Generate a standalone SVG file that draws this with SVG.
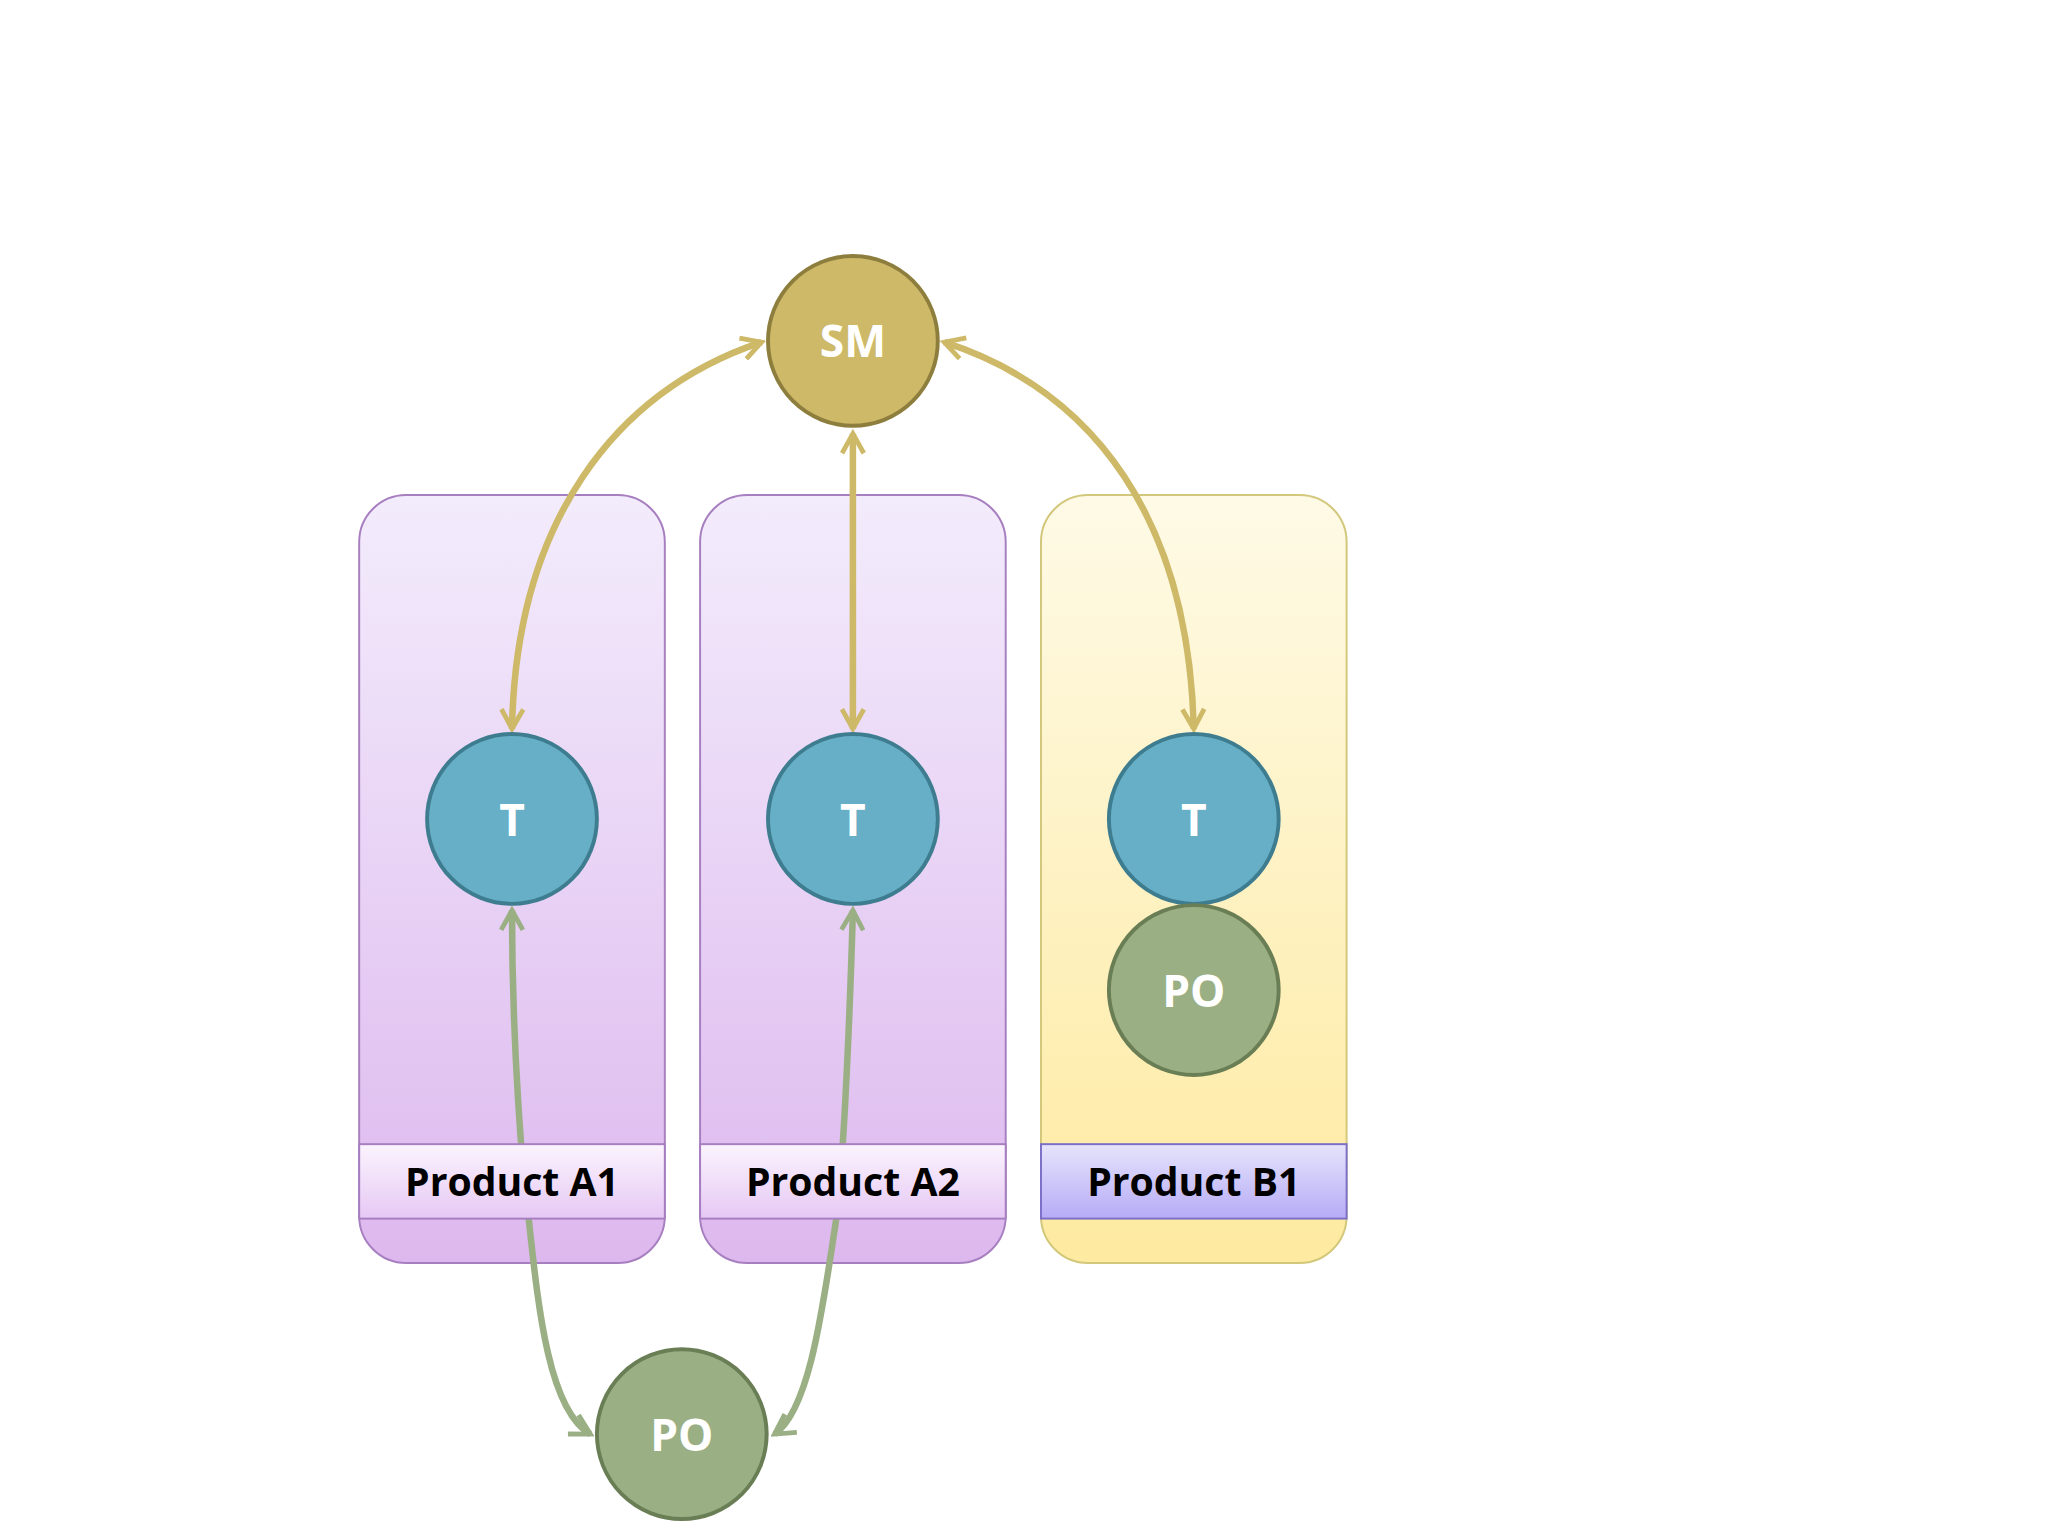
<svg xmlns="http://www.w3.org/2000/svg" width="2048" height="1536" viewBox="0 0 2048 1536">
<defs>
<linearGradient id="gp" x1="0" y1="0" x2="0" y2="1"><stop offset="0" stop-color="#F3ECFC"/><stop offset="1" stop-color="#DDB8EE"/></linearGradient>
<linearGradient id="gy" x1="0" y1="0" x2="0" y2="1"><stop offset="0" stop-color="#FEFAE6"/><stop offset="1" stop-color="#FEEAA0"/></linearGradient>
<linearGradient id="bp" x1="0" y1="0" x2="0" y2="1"><stop offset="0" stop-color="#FBF4FE"/><stop offset="1" stop-color="#E6C8F4"/></linearGradient>
<linearGradient id="bb" x1="0" y1="0" x2="0" y2="1"><stop offset="0" stop-color="#E6E4FC"/><stop offset="1" stop-color="#B6ABF6"/></linearGradient>
<marker id="ag" viewBox="0 0 12 12" refX="10" refY="6" markerWidth="4" markerHeight="4" orient="auto-start-reverse" markerUnits="strokeWidth"><path d="M1,1 L10,6 L1,11" fill="none" stroke="#CDB967" stroke-width="2.2"/></marker>
<marker id="ao" viewBox="0 0 12 12" refX="10" refY="6" markerWidth="4" markerHeight="4" orient="auto-start-reverse" markerUnits="strokeWidth"><path d="M1,1 L10,6 L1,11" fill="none" stroke="#9BAF84" stroke-width="2.2"/></marker>
</defs>
<style>
.panel{stroke-width:1.5}
.band{stroke-width:1.5}
.lbl{font-family:"Open Sans","Liberation Sans",sans-serif;font-weight:bold;font-size:30px;fill:#000;text-anchor:middle}
.ct{font-family:"Open Sans","Liberation Sans",sans-serif;font-weight:bold;font-size:34px;fill:#fff;text-anchor:middle}
.t{fill:#67AFC6;stroke:#3E7C90;stroke-width:3}
.po{fill:#9BAF84;stroke:#6A7E55;stroke-width:3}
.sm{fill:#CDB967;stroke:#8E7E3E;stroke-width:3}
.cg{fill:none;stroke:#CDB967;stroke-width:5;marker-start:url(#ag);marker-end:url(#ag)}
.co{fill:none;stroke:#9BAF84;stroke-width:5;marker-start:url(#ao);marker-end:url(#ao)}
</style>
<g transform="scale(1.30612)">
<g id="panelA1"><rect class="panel" x="275" y="379" width="234" height="588" rx="36" fill="url(#gp)" stroke="#A77FC0"/></g>
<g id="panelA2"><rect class="panel" x="536" y="379" width="234" height="588" rx="36" fill="url(#gp)" stroke="#A77FC0"/></g>
<g id="panelB1"><rect class="panel" x="797" y="379" width="234" height="588" rx="36" fill="url(#gy)" stroke="#D2C77A"/></g>
<g id="connectors">
<path class="cg" d="M583,262 C470,300 395,400 392,558"/>
<path class="cg" d="M653,332 L653,558"/>
<path class="cg" d="M723,262 C840,300 910,400 914,558"/>
<path class="co" d="M392,697 C392,800 400,900 405,935 C412,1000 420,1080 452,1098"/>
<path class="co" d="M653,697 C650,800 645,900 640,935 C630,1000 620,1080 593,1098"/>
</g>
<g id="bandA1"><rect class="band" x="275" y="876" width="234" height="57" fill="url(#bp)" stroke="#A77FC0"/><text class="lbl" x="392" y="916">Product A1</text></g>
<g id="bandA2"><rect class="band" x="536" y="876" width="234" height="57" fill="url(#bp)" stroke="#A77FC0"/><text class="lbl" x="653" y="916">Product A2</text></g>
<g id="bandB1"><rect class="band" x="797" y="876" width="234" height="57" fill="url(#bb)" stroke="#7B6FC8"/><text class="lbl" x="914" y="916">Product B1</text></g>
<g id="SM"><circle class="sm" cx="653" cy="261" r="65"/><text class="ct" x="653" y="273">SM</text></g>
<g id="TA1"><circle class="t" cx="392" cy="627" r="65"/><text class="ct" x="392" y="640">T</text></g>
<g id="TA2"><circle class="t" cx="653" cy="627" r="65"/><text class="ct" x="653" y="640">T</text></g>
<g id="TB1"><circle class="t" cx="914" cy="627" r="65"/><text class="ct" x="914" y="640">T</text></g>
<g id="POB1"><circle class="po" cx="914" cy="758" r="65"/><text class="ct" x="914" y="771">PO</text></g>
<g id="PO"><circle class="po" cx="522" cy="1098" r="65"/><text class="ct" x="522" y="1111">PO</text></g>
</g>
</svg>
